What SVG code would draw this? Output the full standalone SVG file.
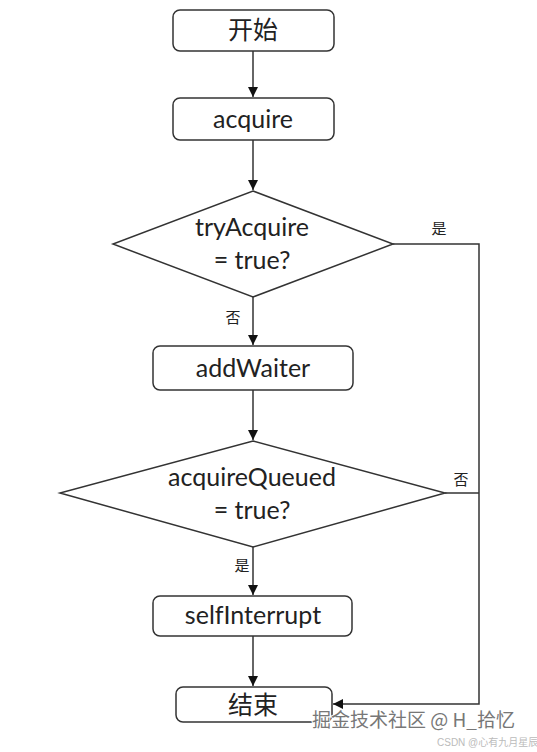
<svg xmlns="http://www.w3.org/2000/svg" width="537" height="752" viewBox="0 0 537 752">
<style>
.box{fill:#fff;stroke:#333;stroke-width:1.5}
.t{font-family:Lato,"Noto Sans CJK SC",sans-serif;font-size:25px;fill:#222;text-anchor:middle}
.c{font-family:"Noto Sans CJK SC",sans-serif;font-size:25px;fill:#222;text-anchor:middle}
.l{font-family:"Noto Sans CJK SC",sans-serif;font-size:15px;fill:#222;text-anchor:middle}
.e{fill:none;stroke:#333;stroke-width:1.5}
.wm{font-family:"Noto Sans CJK SC",sans-serif;fill:#777;stroke:#fff;stroke-width:2;paint-order:stroke}
</style>
<defs>
<marker id="a" viewBox="0 0 10 10" refX="10" refY="5" markerWidth="10" markerHeight="10" markerUnits="userSpaceOnUse" orient="auto">
<path d="M0,0 L10,5 L0,10 z" fill="#111"/>
</marker>
</defs>
<g id="connectors">
<line class="e" x1="253" y1="51" x2="253" y2="97" marker-end="url(#a)"/>
<line class="e" x1="253" y1="140" x2="253" y2="190" marker-end="url(#a)"/>
<line class="e" x1="253" y1="297" x2="253" y2="345" marker-end="url(#a)"/>
<line class="e" x1="253" y1="390" x2="253" y2="440" marker-end="url(#a)"/>
<line class="e" x1="253" y1="547" x2="253" y2="595" marker-end="url(#a)"/>
<line class="e" x1="253" y1="636" x2="253" y2="686" marker-end="url(#a)"/>
<polyline class="e" points="393,244 479,244 479,704 333,704" marker-end="url(#a)"/>
<line class="e" x1="445" y1="493" x2="479" y2="493"/>
<text class="l" x="439" y="234">是</text>
<text class="l" x="233" y="323">否</text>
<text class="l" x="461" y="485">否</text>
<text class="l" x="242" y="571">是</text>
</g>
<g id="start">
<rect class="box" x="173" y="10" width="161" height="41" rx="7"/>
<text class="c" x="253" y="39">开始</text>
</g>
<g id="acquire">
<rect class="box" x="173" y="98" width="161" height="42" rx="7"/>
<text class="t" x="253" y="128">acquire</text>
</g>
<g id="tryAcquire">
<polygon class="box" points="253,191 393,244 253,297 113,244"/>
<text class="t" x="252" y="236">tryAcquire</text>
<text class="t" x="252" y="269">= true?</text>
</g>
<g id="addWaiter">
<rect class="box" x="153" y="346" width="200" height="44" rx="7"/>
<text class="t" x="253" y="377">addWaiter</text>
</g>
<g id="acquireQueued">
<polygon class="box" points="253,441 445,493 253,547 60,493"/>
<text class="t" x="252" y="486">acquireQueued</text>
<text class="t" x="252" y="519">= true?</text>
</g>
<g id="selfInterrupt">
<rect class="box" x="153" y="596" width="199" height="40" rx="7"/>
<text class="t" x="253" y="624">selfInterrupt</text>
</g>
<g id="end">
<rect class="box" x="176" y="687" width="156" height="35" rx="7"/>
<text class="c" x="253" y="714">结束</text>
</g>
<text class="wm" x="312" y="727" font-size="19">掘金技术社区 @ H_拾忆</text>
<text x="437" y="746" font-family="Liberation Sans,Noto Sans CJK SC,sans-serif" font-size="10" fill="#bbb">CSDN @心有九月星辰</text>
</svg>
